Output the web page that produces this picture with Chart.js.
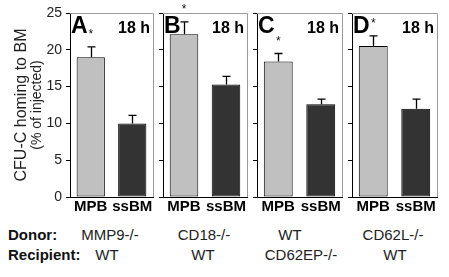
<!DOCTYPE html>
<html>
<head>
<meta charset="utf-8">
<script src="https://cdn.jsdelivr.net/npm/chart.js@4.4.1/dist/chart.umd.min.js"></script>
<style>
  html, body { margin: 0; padding: 0; background: #fff; }
  #wrap { position: relative; width: 449px; height: 277px; background: #fff; overflow: hidden;
          font-family: "Liberation Sans", Arial, sans-serif; }
  canvas { position: absolute; top: 0; }
  .row { position: absolute; font-size: 15px; color: #111; white-space: nowrap; line-height: 18px; }
  .lbl { font-weight: bold; left: 8px; }
  .val { transform: translateX(-50%); color: #222; }
</style>
</head>
<body>
<div id="wrap"></div>
<script>
// ---- data ----
const panelLetters = ['A', 'B', 'C', 'D'];
const timeLabel = '18 h';
const categories = ['MPB', 'ssBM'];
const mpbValues  = [19.0, 22.1, 18.4, 20.5];
const mpbErrors  = [1.4, 1.7, 1.1, 1.4];
const ssbmValues = [10.0, 15.3, 12.6, 12.0];
const ssbmErrors = [1.1, 1.1, 0.7, 1.3];
const donors     = ['MMP9-/-', 'CD18-/-', 'WT', 'CD62L-/-'];
const recipients = ['WT', 'WT', 'CD62EP-/-', 'WT'];
const yMin = 0, yMax = 25, yStep = 5;
const yTitle1 = 'CFU-C homing to BM';
const yTitle2 = '(% of injected)';

// ---- layout ----
const FONT = '"Liberation Sans", Arial, sans-serif';
const panelAxisX = [70, 163, 257, 352];
const panelRight = [153, 247, 342, 437];
const donorCenters = [110, 204, 290, 393];
const recipCenters = [107, 203, 301, 395];
const wrap = document.getElementById('wrap');

const framePlugin = {
  id: 'frame',
  afterDraw(chart) {
    const {ctx, chartArea: a} = chart;
    ctx.save();
    ctx.strokeStyle = '#9a9a9a';
    ctx.lineWidth = 1;
    ctx.beginPath();
    ctx.moveTo(a.left, a.top + 0.5);
    ctx.lineTo(a.right + 0.5, a.top + 0.5);
    ctx.lineTo(a.right + 0.5, a.bottom);
    ctx.stroke();
    ctx.restore();
  }
};

const decoPlugin = {
  id: 'deco',
  afterDatasetsDraw(chart, args, opts) {
    const {ctx, chartArea: a} = chart;
    const meta = chart.getDatasetMeta(0);
    const ys = chart.scales.y;
    const ds = chart.data.datasets[0];
    ctx.save();
    // error bars (upper whisker only)
    ctx.strokeStyle = '#000';
    ctx.lineWidth = 1.3;
    let topPix = [];
    meta.data.forEach((bar, i) => {
      const v = ds.data[i], e = ds.errors[i];
      const yTop = ys.getPixelForValue(v + e);
      topPix.push(yTop);
      const x = Math.round(bar.x) + 0.5;
      ctx.beginPath();
      ctx.moveTo(x, bar.y);
      ctx.lineTo(x, yTop);
      ctx.moveTo(x - 4, yTop);
      ctx.lineTo(x + 4, yTop);
      ctx.stroke();
    });
    // asterisk above MPB
    ctx.fillStyle = '#111';
    ctx.font = '12px ' + FONT;
    ctx.textAlign = 'center';
    ctx.textBaseline = 'middle';
    ctx.fillText('*', meta.data[0].x, topPix[0] - 12);
    // panel letter and time
    ctx.fillStyle = '#000';
    ctx.font = 'bold 23px ' + FONT;
    ctx.textAlign = 'left';
    ctx.textBaseline = 'alphabetic';
    ctx.fillText(opts.letter, a.left + 1, a.top + 20);
    ctx.font = 'bold 16px ' + FONT;
    ctx.textAlign = 'right';
    ctx.fillText(timeLabel, a.right - 3, a.top + 20);
    // second y title line
    if (opts.title2) {
      ctx.save();
      ctx.translate(37, (a.top + a.bottom) / 2);
      ctx.rotate(-Math.PI / 2);
      ctx.font = '14px ' + FONT;
      ctx.fillStyle = '#222';
      ctx.textAlign = 'center';
      ctx.textBaseline = 'middle';
      ctx.fillText(opts.title2, 0, 0);
      ctx.restore();
    }
    ctx.restore();
  }
};

panelLetters.forEach((letter, i) => {
  const first = i === 0;
  const yW = first ? 70 : 5;
  const left = panelAxisX[i] - yW;
  const width = panelRight[i] - left + 3;
  const cv = document.createElement('canvas');
  cv.style.left = left + 'px';
  cv.style.width = width + 'px';
  cv.style.height = '222px';
  cv.width = width; cv.height = 222;
  wrap.appendChild(cv);

  new Chart(cv, {
    type: 'bar',
    data: {
      labels: categories,
      datasets: [{
        data: [mpbValues[i], ssbmValues[i]],
        errors: [mpbErrors[i], ssbmErrors[i]],
        backgroundColor: ['#c0c0c0', '#333333'],
        borderColor: '#000',
        borderWidth: 1,
        borderSkipped: false,
        categoryPercentage: 1,
        barPercentage: 0.68
      }]
    },
    options: {
      responsive: false,
      animation: false,
      events: [],
      layout: { padding: { left: 0, right: 3, top: 13, bottom: 0 } },
      plugins: {
        legend: { display: false },
        tooltip: { enabled: false },
        deco: { letter: letter, title2: first ? yTitle2 : null }
      },
      scales: {
        x: {
          grid: { display: false, drawTicks: false },
          border: { display: true, color: '#000', width: 1 },
          ticks: { color: '#000', font: { family: FONT, size: 15, weight: 'bold' }, padding: 1, maxRotation: 0, autoSkip: false },
          afterFit(s) { s.height = 25; }
        },
        y: {
          min: yMin, max: yMax,
          grid: { display: true, drawOnChartArea: false, drawTicks: true, tickLength: 4, tickColor: '#000', tickWidth: 1 },
          border: { display: true, color: '#000', width: 1 },
          ticks: { display: first, stepSize: yStep, color: '#222', font: { family: FONT, size: 14 }, padding: 4 },
          title: {
            display: first,
            text: yTitle1,
            color: '#222',
            font: { family: FONT, size: 16, lineHeight: 1 },
            padding: { top: 14, bottom: 0 }
          },
          afterFit(s) { s.width = yW; }
        }
      }
    },
    plugins: [framePlugin, decoPlugin]
  });
});

// Donor / Recipient rows
function addText(txt, cls, x, y) {
  const d = document.createElement('div');
  d.className = 'row ' + cls;
  d.textContent = txt;
  if (x !== null) d.style.left = x + 'px';
  d.style.top = y + 'px';
  wrap.appendChild(d);
}
addText('Donor:', 'lbl', null, 226);
addText('Recipient:', 'lbl', null, 246);
donors.forEach((t, i) => addText(t, 'val', donorCenters[i], 226));
recipients.forEach((t, i) => addText(t, 'val', recipCenters[i], 246));
</script>
</body>
</html>
